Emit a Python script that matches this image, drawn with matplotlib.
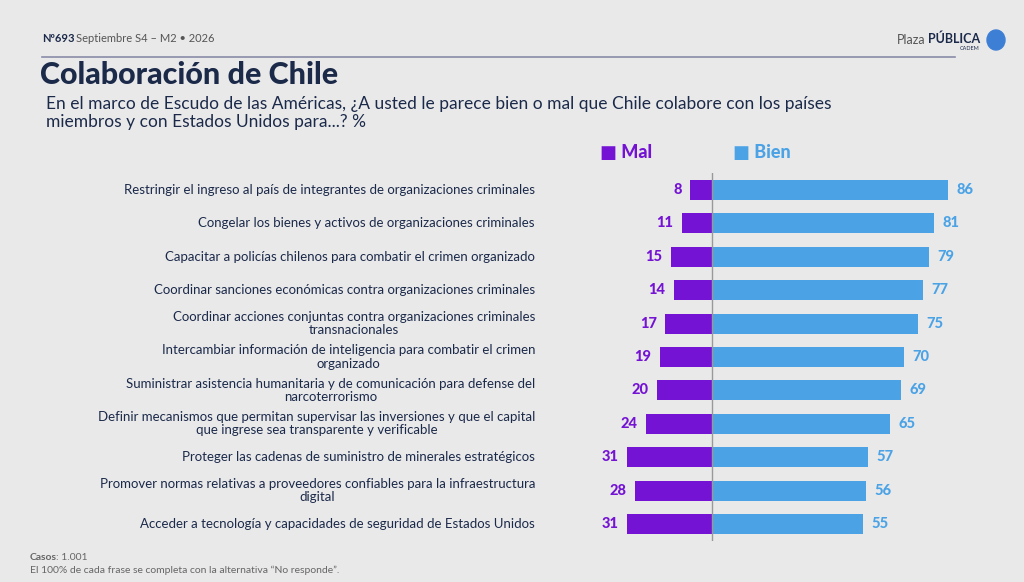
import matplotlib.pyplot as plt
import matplotlib.transforms as mtransforms
from matplotlib.patches import Ellipse

items = [
    "Restringir el ingreso al país de integrantes de organizaciones criminales",
    "Congelar los bienes y activos de organizaciones criminales",
    "Capacitar a policías chilenos para combatir el crimen organizado",
    "Coordinar sanciones económicas contra organizaciones criminales",
    "Coordinar acciones conjuntas contra organizaciones criminales\ntransnacionales",
    "Intercambiar información de inteligencia para combatir el crimen\norganizado",
    "Suministrar asistencia humanitaria y de comunicación para defense del\nnarcoterrorismo",
    "Definir mecanismos que permitan supervisar las inversiones y que el capital\nque ingrese sea transparente y verificable",
    "Proteger las cadenas de suministro de minerales estratégicos",
    "Promover normas relativas a proveedores confiables para la infraestructura\ndigital",
    "Acceder a tecnología y capacidades de seguridad de Estados Unidos",
]
mal = [8, 11, 15, 14, 17, 19, 20, 24, 31, 28, 31]
bien = [86, 81, 79, 77, 75, 70, 69, 65, 57, 56, 55]

BG = "#e9e9ea"
NAVY = "#1c2a4a"
PURPLE = "#7413d3"
BLUE = "#4ba3e6"

plt.rcParams['font.family'] = ['Lato', 'DejaVu Sans']
W, H = 1024, 582
fig = plt.figure(figsize=(W / 100, H / 100), dpi=100, facecolor=BG)

def ftext(x, y, s, **kw):
    fig.text(x / W, 1 - y / H, s, **kw)

ftext(42, 38, "Nº693", fontsize=8, fontweight="bold", color=NAVY, va="center")
ftext(76, 38, "Septiembre S4 – M2 • 2026", fontsize=8, color="#555", va="center")
ftext(925, 40, "Plaza", fontsize=9, color="#555", va="center", ha="right")
ftext(980, 39, "PÚBLICA", fontsize=9, fontweight="bold", color=NAVY, va="center", ha="right")
ftext(980, 49, "CADEM", fontsize=4, color=NAVY, va="center", ha="right")
fig.add_artist(plt.Line2D([42 / W, 955 / W], [1 - 57 / H] * 2, color="#8a8ca8", lw=1.2))
fig.add_artist(Ellipse((996 / W, 1 - 40 / H), 18 / W, 20 / H, transform=fig.transFigure, color="#3e7fd6"))
ftext(40, 75, "Colaboración de Chile", fontsize=22, fontweight="black", color=NAVY, va="center")
ftext(46, 113, "En el marco de Escudo de las Américas, ¿A usted le parece bien o mal que Chile colabore con los países\nmiembros y con Estados Unidos para...? %",
      fontsize=12.5, color=NAVY, va="center", linespacing=1.2)
ftext(600, 152, "■ Mal", fontsize=13, fontweight="black", color=PURPLE, va="center")
ftext(733, 152, "■ Bien", fontsize=13, fontweight="black", color=BLUE, va="center")
ftext(30, 557, "Casos", fontsize=7.5, fontweight="bold", color="#666", va="center")
ftext(56, 557, ": 1.001", fontsize=7.5, color="#666", va="center")
ftext(30, 570, "El 100% de cada frase se completa con la alternativa “No responde”.", fontsize=7.5, color="#666", va="center")

x0, x1, y0, y1 = 590, 1000, 173, 541
ax = fig.add_axes([x0 / W, 1 - y1 / H, (x1 - x0) / W, (y1 - y0) / H])
ax.set_facecolor("none")
scale = 236 / 86
ax.set_xlim((x0 - 712) / scale, (x1 - 712) / scale)
n = len(items)
ax.set_ylim(n - 0.5, -0.5)
ys = list(range(n))
ax.barh(ys, [-m for m in mal], height=0.6, color=PURPLE)
ax.barh(ys, bien, height=0.6, color=BLUE)
ax.axvline(0, color="#999", lw=1)
for y, m, b in zip(ys, mal, bien):
    ax.text(-m - 3, y, str(m), ha="right", va="center", fontsize=10.5, fontweight="black", color=PURPLE)
    ax.text(b + 3, y, str(b), ha="left", va="center", fontsize=10.5, fontweight="black", color=BLUE)
trans = mtransforms.blended_transform_factory(fig.transFigure, ax.transData)
for y, lab in zip(ys, items):
    ax.text(535 / W, y, lab, transform=trans, ha="right", va="center", fontsize=9.5,
            color=NAVY, multialignment="center", linespacing=1.1)
ax.axis("off")

fig.savefig("out.png", dpi=100, facecolor=BG)
